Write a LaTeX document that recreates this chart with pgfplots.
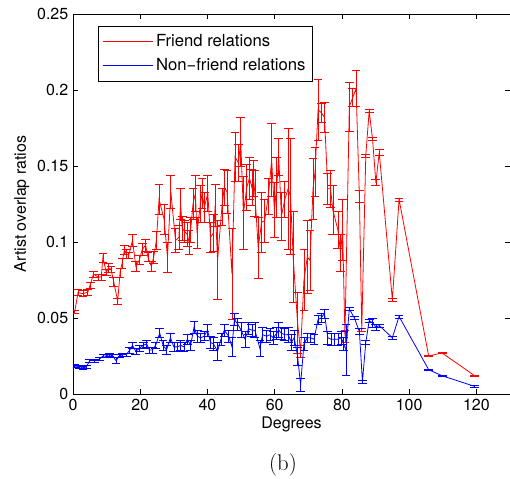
\documentclass[border=0pt]{standalone}
\usepackage{pgfplots}
\pgfplotsset{compat=1.18}
\usepackage{fontspec}
\setmainfont{TeX Gyre Heros}
\newfontfamily\lmroman{Latin Modern Roman}
\definecolor{mred}{rgb}{1,0,0}
\definecolor{mblue}{rgb}{0,0,1}

\begin{document}
\begin{tikzpicture}
\begin{axis}[
    at={(0,0)}, anchor=south west,
    scale only axis,
    width=327.75pt, height=285pt,
    xmin=0, xmax=130, ymin=0, ymax=0.25,
    xtick={0,20,40,60,80,100,120},
    ytick={0,0.05,0.1,0.15,0.2,0.25},
    yticklabels={0,0.05,0.1,0.15,0.2,0.25},
    /pgf/number format/assume math mode=true,
    tick align=inside,
    major tick length=3.75pt,
    tick style={black, line width=0.5pt},
    axis line style={line width=0.6pt},
    font=\fontsize{12}{14}\selectfont,
    xlabel={Degrees},
    ylabel={Artist overlap ratios},
    xlabel style={yshift=2pt},
    ylabel style={yshift=-1pt},
    legend style={at={(0.057,0.968)}, anchor=north west, draw=black,
        line width=0.6pt, font=\fontsize{12.5}{15}\selectfont,
        inner xsep=3pt, inner ysep=4pt, row sep=3.5pt},
    legend cell align=left,
    legend image code/.code={\draw[#1, line width=0.8pt] (0pt,0pt) -- (37.5pt,0pt);},
]
\addlegendimage{draw=mred}
\addlegendentry{Friend relations}
\addlegendimage{draw=mblue}
\addlegendentry{Non−friend relations}
\addplot[mred, line width=0.6pt, mark=none, forget plot,
    error bars/.cd, y dir=both, y explicit, error mark=|,
    error bar style={mred, line width=0.5pt},
    error mark options={mred, mark size=3.3pt, line width=0.5pt}]
coordinates {
(0.5,0.054) +- (0,0.001) (1.5,0.0667) +- (0,0.002) (3,0.066) +- (0,0.002)
(4.4,0.067) +- (0,0.002) (5.1,0.0717) +- (0,0.002) (6.1,0.079) +- (0,0.002)
(7.4,0.077) +- (0,0.002) (8.4,0.077) +- (0,0.002) (8.9,0.0897) +- (0,0.003)
(9.9,0.080) +- (0,0.002) (10.6,0.083) +- (0,0.003) (11.3,0.082) +- (0,0.002)
(12.1,0.074) +- (0,0.003) (13.3,0.061) +- (0,0.002) (14,0.080) +- (0,0.003)
(14.6,0.086) +- (0,0.003) (15.3,0.095) +- (0,0.003) (15.9,0.092) +- (0,0.003)
(16.6,0.0915) +- (0,0.002) (17.7,0.101) +- (0,0.004) (18.7,0.084) +- (0,0.003)
(19.7,0.088) +- (0,0.003) (20.6,0.095) +- (0,0.004) (21.6,0.098) +- (0,0.004)
(22.3,0.090) +- (0,0.003) (23.3,0.084) +- (0,0.003) (24,0.090) +- (0,0.004)
(24.8,0.101) +- (0,0.006) (25.6,0.128) +- (0,0.010) (27.1,0.115) +- (0,0.010)
(28.1,0.090) +- (0,0.010) (29.1,0.133) +- (0,0.011) (30.5,0.101) +- (0,0.008)
(31.5,0.103) +- (0,0.008) (32,0.125) +- (0,0.010) (32.5,0.109) +- (0,0.008)
(33.2,0.107) +- (0,0.007) (34,0.105) +- (0,0.008) (34.5,0.100) +- (0,0.008)
(35,0.108) +- (0,0.008) (35.7,0.125) +- (0,0.010) (36.4,0.132) +- (0,0.012)
(36.9,0.106) +- (0,0.010) (37.9,0.125) +- (0,0.012) (38.4,0.132) +- (0,0.010)
(39.1,0.123) +- (0,0.010) (40.1,0.132) +- (0,0.012) (40.9,0.103) +- (0,0.010)
(41.8,0.106) +- (0,0.012) (42.3,0.124) +- (0,0.014) (43,0.088) +- (0,0.026)
(44.3,0.123) +- (0,0.012) (45,0.136) +- (0,0.012) (45.8,0.133) +- (0,0.014)
(47.3,0.079) +- (0,0.030) (48.2,0.156) +- (0,0.016) (49.2,0.152) +- (0,0.012)
(49.9,0.166) +- (0,0.016) (50.7,0.119) +- (0,0.024) (51.7,0.136) +- (0,0.015)
(52.5,0.142) +- (0,0.014) (53.2,0.136) +- (0,0.012) (53.7,0.142) +- (0,0.012)
(54.1,0.132) +- (0,0.015) (55.1,0.096) +- (0,0.020) (56.1,0.113) +- (0,0.020)
(57,0.114) +- (0,0.014) (58.1,0.130) +- (0,0.012) (59.1,0.154) +- (0,0.024)
(59.9,0.121) +- (0,0.018) (60.6,0.136) +- (0,0.020) (61.2,0.156) +- (0,0.012)
(62,0.117) +- (0,0.016) (63,0.128) +- (0,0.012) (64,0.135) +- (0,0.040)
(64.7,0.130) +- (0,0.038) (65.5,0.090) +- (0,0.030) (66.8,0.047) +- (0,0.020)
(67.7,0.028) +- (0,0.004) (68.7,0.075) +- (0,0.020) (69.7,0.090) +- (0,0.024)
(70.5,0.088) +- (0,0.020) (71.4,0.135) +- (0,0.020) (72,0.146) +- (0,0.016)
(72.9,0.187) +- (0,0.020) (73.9,0.185) +- (0,0.006) (74.8,0.182) +- (0,0.010)
(75.8,0.135) +- (0,0.010) (76.6,0.135) +- (0,0.012) (77.3,0.121) +- (0,0.016)
(78.8,0.108) +- (0,0.012) (79.6,0.093) +- (0,0.012) (80.2,0.108) +- (0,0.020)
(80.9,0.038) +- (0,0.004) (82.2,0.189) +- (0,0.016) (83.2,0.195) +- (0,0.006)
(84.2,0.201) +- (0,0.012) (85.2,0.130) +- (0,0.004) (85.9,0.042) +- (0,0.001)
(87.1,0.157) +- (0,0.001) (88.1,0.186) +- (0,0.001) (89.1,0.168) +- (0,0.001)
(90.1,0.139) +- (0,0.002) (91.1,0.159) +- (0,0.002) (95,0.062) +- (0,0.001)
(97,0.128) +- (0,0.001) (105.8,0.025) +- (0,0.0005) (109.8,0.027) +- (0,0.0005)
(119.5,0.012) +- (0,0.0005)
};
\addplot[mblue, line width=0.6pt, mark=none, forget plot,
    error bars/.cd, y dir=both, y explicit, error mark=|,
    error bar style={mblue, line width=0.5pt},
    error mark options={mblue, mark size=3.3pt, line width=0.5pt}]
coordinates {
(0.5,0.0184) +- (0,0.001) (2,0.018) +- (0,0.001) (3,0.017) +- (0,0.001)
(4,0.018) +- (0,0.001) (5,0.022) +- (0,0.001) (6.4,0.022) +- (0,0.001)
(7.9,0.023) +- (0,0.001) (8.9,0.025) +- (0,0.001) (9.9,0.025) +- (0,0.001)
(10.8,0.026) +- (0,0.001) (11.8,0.025) +- (0,0.001) (12.8,0.022) +- (0,0.002)
(13.8,0.025) +- (0,0.001) (14.8,0.026) +- (0,0.001) (15.9,0.026) +- (0,0.001)
(16.9,0.029) +- (0,0.002) (17.7,0.032) +- (0,0.002) (18.7,0.028) +- (0,0.002)
(19.7,0.030) +- (0,0.002) (20.9,0.032) +- (0,0.002) (21.9,0.033) +- (0,0.002)
(22.7,0.029) +- (0,0.002) (23.6,0.029) +- (0,0.002) (24.6,0.032) +- (0,0.002)
(25.8,0.040) +- (0,0.003) (26.8,0.032) +- (0,0.003) (27.8,0.029) +- (0,0.003)
(29,0.037) +- (0,0.003) (30,0.031) +- (0,0.003) (31,0.031) +- (0,0.003)
(32,0.032) +- (0,0.003) (33,0.031) +- (0,0.003) (34,0.036) +- (0,0.003)
(35,0.032) +- (0,0.003) (36,0.044) +- (0,0.004) (37,0.038) +- (0,0.004)
(38,0.037) +- (0,0.003) (39,0.038) +- (0,0.003) (40,0.042) +- (0,0.004)
(40.9,0.034) +- (0,0.004) (41.8,0.033) +- (0,0.004) (43,0.028) +- (0,0.006)
(44,0.036) +- (0,0.004) (45,0.042) +- (0,0.004) (46.3,0.038) +- (0,0.004)
(47.3,0.031) +- (0,0.006) (48,0.049) +- (0,0.004) (49,0.046) +- (0,0.004)
(50,0.042) +- (0,0.005) (51.2,0.036) +- (0,0.005) (52.2,0.043) +- (0,0.004)
(53.2,0.042) +- (0,0.004) (54.1,0.042) +- (0,0.005) (55.6,0.030) +- (0,0.005)
(56.4,0.039) +- (0,0.005) (57.6,0.038) +- (0,0.004) (58.6,0.039) +- (0,0.004)
(59.6,0.037) +- (0,0.004) (60.6,0.040) +- (0,0.004) (61.2,0.042) +- (0,0.005)
(62,0.040) +- (0,0.004) (63,0.039) +- (0,0.004) (64,0.039) +- (0,0.005)
(65,0.034) +- (0,0.005) (65.8,0.037) +- (0,0.005) (66.8,0.025) +- (0,0.006)
(67.7,0.006) +- (0,0.004) (68.7,0.033) +- (0,0.004) (69.7,0.037) +- (0,0.003)
(70.7,0.037) +- (0,0.003) (71.7,0.036) +- (0,0.003) (72.9,0.049) +- (0,0.003)
(73.8,0.050) +- (0,0.003) (74.8,0.053) +- (0,0.003) (75.8,0.037) +- (0,0.004)
(76.8,0.036) +- (0,0.004) (77.8,0.036) +- (0,0.004) (78.8,0.036) +- (0,0.004)
(79.8,0.037) +- (0,0.004) (80.5,0.033) +- (0,0.004) (81.2,0.029) +- (0,0.017)
(82.2,0.056) +- (0,0.001) (83.7,0.050) +- (0,0.001) (85.2,0.041) +- (0,0.002)
(86.1,0.008) +- (0,0.001) (87.1,0.034) +- (0,0.001) (88.1,0.048) +- (0,0.001)
(89.1,0.047) +- (0,0.003) (90.1,0.044) +- (0,0.002) (91.1,0.045) +- (0,0.001)
(95,0.037) +- (0,0.001) (97,0.051) +- (0,0.001) (105.8,0.016) +- (0,0.0005)
(109.8,0.012) +- (0,0.0005) (119.5,0.005) +- (0,0.0005)
};
\end{axis}
\node[font=\lmroman\fontsize{17}{20}\selectfont] at (157.5pt,-53.25pt) {(b)};
\pgfresetboundingbox
\path[use as bounding box] (-54.75pt,-63pt) rectangle (327.75pt,295.5pt);
\end{tikzpicture}
\end{document}
